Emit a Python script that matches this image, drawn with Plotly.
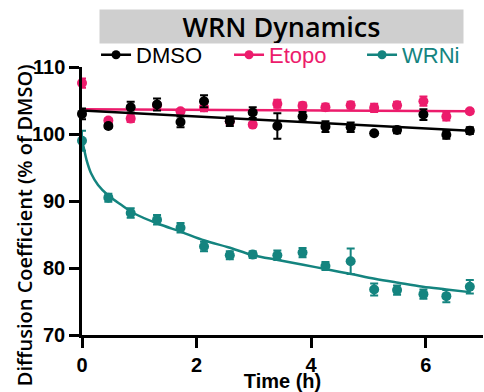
import plotly.graph_objects as go

# ---- data ----
time_h = [0, 0.46, 0.85, 1.31, 1.72, 2.13, 2.58, 2.98, 3.41, 3.85, 4.25, 4.69, 5.10, 5.50, 5.96, 6.36, 6.77]

dmso = [103.0, 101.2, 104.0, 104.4, 101.8, 104.9, 101.9, 103.2, 101.2, 102.6, 101.1, 101.0, 100.1, 100.6, 102.9, 99.9, 100.5]
dmso_err = [0.8, 0.3, 0.8, 0.9, 0.8, 0.9, 0.7, 0.8, 1.9, 0.7, 0.8, 0.7, 0.2, 0.5, 0.8, 0.6, 0.5]

etopo = [107.6, 102.0, 102.3, 104.3, 103.4, 104.0, 101.9, 101.4, 104.5, 104.2, 104.0, 104.3, 103.9, 104.3, 104.9, 102.6, 103.4]
etopo_err = [0.7, 0.3, 0.5, 0.4, 0.3, 0.6, 0.4, 0.3, 0.6, 0.5, 0.5, 0.5, 0.6, 0.5, 0.7, 0.6, 0.3]

wrni = [99.0, 90.5, 88.2, 87.2, 86.0, 83.2, 81.9, 82.0, 81.9, 82.3, 80.3, 81.0, 76.8, 76.7, 76.1, 75.8, 77.2]
wrni_err = [1.5, 0.6, 0.7, 0.7, 0.7, 0.7, 0.6, 0.5, 0.7, 0.7, 0.6, 1.9, 0.9, 0.7, 0.7, 0.9, 1.0]

# fitted trend lines
dmso_fit_t = [0, 6.77]
dmso_fit = [103.5, 100.5]
etopo_fit_t = [0, 6.77]
etopo_fit = [103.7, 103.4]
wrni_fit_t = [0, 0.04, 0.08, 0.16, 0.28, 0.45, 0.69, 0.92, 1.33, 1.73, 2.14, 2.55, 2.99, 3.42, 3.86, 4.27, 4.70, 5.11, 5.52, 5.95, 6.36, 6.77]
wrni_fit = [99.1, 97.6, 96.1, 94.1, 92.4, 90.9, 89.4, 88.1, 86.6, 85.4, 84.1, 83.1, 81.9, 81.2, 80.5, 79.8, 79.1, 78.4, 77.8, 77.2, 76.8, 76.4]

x_ticks = [0, 2, 4, 6]
y_ticks = [70, 80, 90, 100, 110]

BLACK = "#000000"
PINK = "#EC1C6C"
TEAL = "#14847F"

fig = go.Figure()

def add_series(name, color, t, y, err, fit_t, fit_y, shape, rank):
    fig.add_trace(go.Scatter(
        x=fit_t, y=fit_y, mode="lines", line=dict(color=color, width=2.5, shape=shape),
        showlegend=False, hoverinfo="skip", cliponaxis=False))
    fig.add_trace(go.Scatter(
        x=t, y=y, mode="markers",
        marker=dict(color=color, size=10),
        error_y=dict(type="data", array=err, color=color, thickness=2, width=4),
        showlegend=False, cliponaxis=False))
    # legend entry (line + marker symbol)
    fig.add_trace(go.Scatter(
        x=[None], y=[None], mode="lines+markers",
        line=dict(color=color, width=2.5), marker=dict(color=color, size=9),
        name=f"<span style='color:{color}'>{name}</span>", legendrank=rank))

add_series("Etopo", PINK, time_h, etopo, etopo_err, etopo_fit_t, etopo_fit, "linear", 2)
add_series("DMSO", BLACK, time_h, dmso, dmso_err, dmso_fit_t, dmso_fit, "linear", 1)
add_series("WRNi", TEAL, time_h, wrni, wrni_err, wrni_fit_t, wrni_fit, "spline", 3)

fig.update_layout(
    width=484, height=392,
    margin=dict(l=82, r=1, t=67, b=57, autoexpand=False),
    plot_bgcolor="white", paper_bgcolor="white",
    font=dict(family="Liberation Sans, Arial, sans-serif", color="black"),
    legend=dict(orientation="h", x=0.035, xanchor="left", y=1.045, yanchor="middle",
                font=dict(size=22, family="Liberation Sans, Arial, sans-serif"),
                entrywidth=88, entrywidthmode="pixels",
                itemwidth=30, bgcolor="rgba(0,0,0,0)", tracegroupgap=0),
    xaxis=dict(range=[0, 7.0], tickvals=x_ticks, ticktext=[str(v) for v in x_ticks],
               showgrid=False, zeroline=False, showline=True, linecolor="black", linewidth=2.5,
               ticks="outside", ticklen=10, tickwidth=2.5, tickcolor="black", automargin=False,
               tickfont=dict(size=20, family="Liberation Sans, Arial, sans-serif", weight="bold"),
               title=dict(text="<b>Time (h)</b>", font=dict(size=20), standoff=0)),
    yaxis=dict(range=[70, 110], tickvals=y_ticks, ticktext=[str(v) for v in y_ticks],
               showgrid=False, zeroline=False, showline=True, linecolor="black", linewidth=2.5,
               ticks="outside", ticklen=10, tickwidth=2.5, tickcolor="black", automargin=False,
               tickfont=dict(size=20, family="Liberation Sans, Arial, sans-serif", weight="bold")),
    annotations=[
        dict(text="WRN Dynamics", x=0.4975, y=1.151, xref="paper", yref="paper",
             xanchor="center", yanchor="middle", showarrow=False,
             width=363, height=33, bgcolor="#cfcfcf", borderpad=0,
             font=dict(size=27, family="Open Sans, sans-serif", weight=600, color="black")),
        dict(text="Diffusion Coefficient (% of DMSO)", textangle=-90,
             x=-0.1446, y=0.41, xref="paper", yref="paper",
             xanchor="center", yanchor="middle", showarrow=False,
             font=dict(size=20, family="Open Sans, sans-serif", weight=600, color="black")),
    ],
)

fig.write_html("out.html", config={"displayModeBar": False},
               post_script="document.body.style.margin='0';")
